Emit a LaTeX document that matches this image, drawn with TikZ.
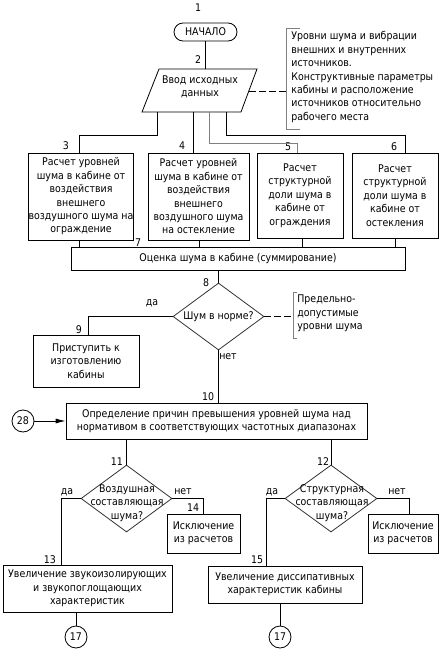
\documentclass[tikz,border=0pt]{standalone}
\usepackage{fontspec}
\setmainfont{DejaVu Sans}[FakeStretch=0.89]
\usetikzlibrary{shapes.geometric,arrows.meta}
\begin{document}
\begin{tikzpicture}[x=1pt,y=-1pt, line width=0.8pt,
  every node/.style={font=\fontsize{10.6}{13.4}\selectfont, inner sep=0pt},
  box/.style={draw, rectangle, align=center},
  dia/.style={draw=black!80, diamond, inner sep=0pt},
  txt/.style={align=center},
  grayline/.style={draw=gray},
  dline/.style={dash pattern=on 7pt off 3pt},
  conn/.style={circle, draw, minimum size=22pt, inner sep=0pt}
]
\useasboundingbox (0,0) rectangle (446,653);
\fill[white] (0,0) rectangle (446,653);

% start
\node[draw, rounded corners=9pt, minimum width=63, minimum height=18] (start) at (205.5,32) {НАЧАЛО};
\node (n1) at (198,8) {1};
\node (n2) at (198,60) {2};

% input parallelogram
\draw (159,69) -- (257,69) -- (241,112) -- (142,112) -- cycle;
\node[txt] (in) at (200,87) {Ввод исходных\\данных};
\coordinate (pTop) at (205,69);
\coordinate (pR) at (249,91);
\coordinate (p1) at (157,112);
\coordinate (p2) at (193,112);
\coordinate (p3) at (209,112);
\coordinate (p4) at (226,112);
\draw (start.south) -- (start.south |- pTop);

% source note
\coordinate (br1) at (286,91);
\draw[dline] (pR) -- (br1);
\draw[grayline] (300,28) -- (286,28) -- (286,129) -- (300,129);
\node[anchor=west, align=left] (src) at (291,77) {Уровни шума и вибрации\\внешних и внутренних\\источников.\\Конструктивные параметры\\кабины и расположение\\источников относительно\\рабочего места};

% four calculation boxes
\node[box, minimum width=104, minimum height=87] (b3) at (81,196.5) {Расчет уровней\\шума в кабине от\\воздействия\\внешнего\\воздушного шума на\\ограждение};
\node[box, minimum width=101, minimum height=87] (b4) at (198.5,196.5) {Расчет уровней\\шума в кабине от\\воздействия\\внешнего\\воздушного шума\\на остекление};
\node[box, minimum width=86, minimum height=85] (b5) at (300,195.5) {Расчет\\структурной\\доли шума в\\кабине от\\ограждения};
\node[box, minimum width=86, minimum height=85] (b6) at (395,195.5) {Расчет\\структурной\\доли шума в\\кабине от\\остекления};
\node (n3) at (66,146) {3};
\node (n4) at (182,146) {4};
\node (n5) at (288,147) {5};
\node (n6) at (394,147) {6};

\draw (p1) -- (157,135) -- (79,135) -- (b3.north -| 79,0);
\draw (p2) -- (b4.north -| p2);
\draw[grayline] (p3) -- (209,143) -- (297,143) -- (b5.north -| 297,0);
\draw (p4) -- (226,135) -- (405,135) -- (b6.north -| 405,0);

% summation
\node[box, minimum width=334, minimum height=23] (b7) at (238,258.5) {Оценка шума в кабине (суммирование)};
\node (n7) at (138,243) {7};
\draw (b3.south -| 79,0) -- (b7.north -| 79,0);
\draw (b4.south -| 199,0) -- (b7.north -| 199,0);
\draw (b5.south -| 302,0) -- (b7.north -| 302,0);
\draw (b6.south -| 395,0) -- (b7.north -| 395,0);

% decision 8
\node[dia, minimum width=91, minimum height=67] (d8) at (218.5,316.5) {};
\node (d8t) at (218.5,317) {Шум в норме?};
\node (n8) at (206,283) {8};
\draw (b7.south -| d8.north) -- (d8.north);
\node (yes8) at (152,303) {да};
\node (no8) at (228,357) {нет};

\node[box, minimum width=106, minimum height=52] (b9) at (86,361) {Приступить к\\изготовлению\\кабины};
\node (n9) at (79,330) {9};
\draw (d8.west) -- (88,316.5) -- (b9.north -| 88,0);

\coordinate (br2) at (293,316.5);
\draw[dline] (d8.east) -- (br2);
\draw[grayline] (297,292) -- (293,292) -- (293,338) -- (297,338);
\node[anchor=west, align=left] (lim) at (297,313.5) {Предельно-\\допустимые\\уровни шума};

% box 10
\node[box, minimum width=301, minimum height=36] (b10) at (216.5,421) {Определение причин превышения уровней шума над\\нормативом в соответствующих частотных диапазонах};
\node (n10) at (208,397) {10};
\draw (d8.south) -- (b10.north -| d8.south);
\node[conn] (c28) at (23,421) {28};
\draw[-{Latex[length=10pt,width=5pt]}] (c28.east) -- (b10.west);

% decision 11
\node[dia, minimum width=91, minimum height=67] (d11) at (126.5,498.5) {};
\node[txt] (d11t) at (127,503) {Воздушная\\составляющая\\шума?};
\node (n11) at (117,462) {11};
\draw (b10.south -| d11.north) -- (d11.north);
\node (yes11) at (67,492) {да};
\node (no11) at (183,492) {нет};

% decision 12
\node[dia, minimum width=92, minimum height=67] (d12) at (331,498.5) {};
\node[txt] (d12t) at (332,503) {Структурная\\составляющая\\шума?};
\node (n12) at (323,462) {12};
\draw (b10.south -| d12.north) -- (d12.north);
\node (yes12) at (272,492) {да};
\node (no12) at (397,492) {нет};

% box 14 and its twin
\node[box, minimum width=73, minimum height=39] (b14) at (203.5,533.5) {Исключение\\из расчетов};
\node (n14) at (193,508) {14};
\draw (d11.east) -- (203,498.5) -- (b14.north -| 203,0);
\node[box, minimum width=70, minimum height=39] (b14b) at (403,533.5) {Исключение\\из расчетов};
\draw (d12.east) -- (409,498.5) -- (b14b.north -| 409,0);

% box 13
\node[box, minimum width=169, minimum height=47] (b13) at (87.5,588.5) {Увеличение звукоизолирующих\\и звукопоглощающих\\характеристик};
\node (n13) at (50,560) {13};
\draw (d11.west) -- (61,498.5) -- (b13.north -| 61,0);
\node[conn] (c17a) at (76,637) {17};
\draw (b13.south -| c17a.north) -- (c17a.north);

% box 15
\node[box, minimum width=154, minimum height=37] (b15) at (285,584.5) {Увеличение диссипативных\\характеристик кабины};
\node (n15) at (257,560) {15};
\draw (d12.west) -- (266,498.5) -- (b15.north -| 266,0);
\node[conn] (c17b) at (280,637) {17};
\draw (b15.south -| c17b.north) -- (c17b.north);
\end{tikzpicture}
\end{document}
